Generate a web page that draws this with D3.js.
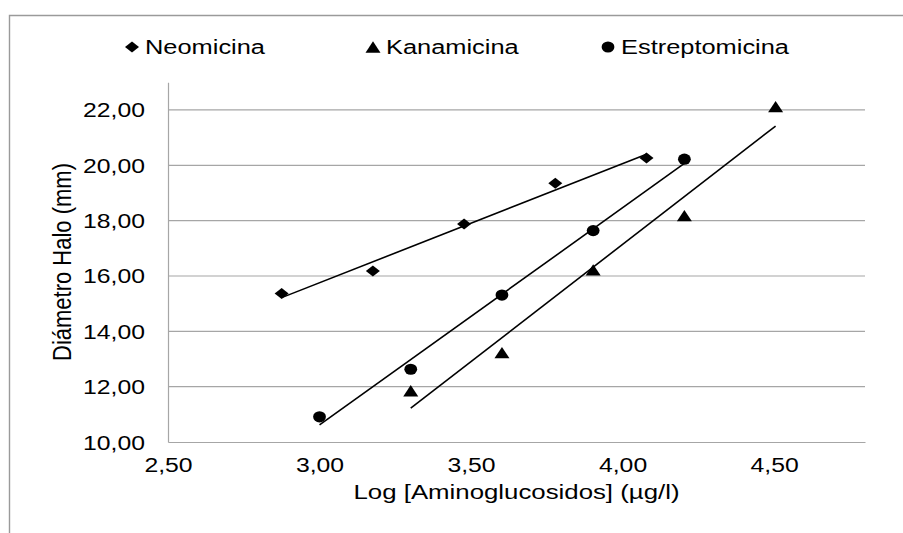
<!DOCTYPE html>
<html><head><meta charset="utf-8">
<script src="https://cdn.jsdelivr.net/npm/d3@7"></script>
<style>body{margin:0;background:#fff;} svg{display:block;} text{font-family:Arial,"Liberation Sans",sans-serif;fill:#000;}</style>
</head><body>
<svg id="c" width="903" height="533"></svg>
<script>
const seriesNames = ["Neomicina", "Kanamicina", "Estreptomicina"];
const neoX = [2.875, 3.176, 3.477, 3.778, 4.079];
const neoY = [15.37, 16.18, 17.88, 19.35, 20.26];
const kanX = [3.301, 3.602, 3.903, 4.204, 4.505];
const kanY = [11.85, 13.23, 16.22, 18.18, 22.12];
const estX = [3.0, 3.301, 3.602, 3.903, 4.204];
const estY = [10.91, 12.63, 15.31, 17.64, 20.22];
const xTicks = [2.5, 3.0, 3.5, 4.0, 4.5];
const yTicks = [10, 12, 14, 16, 18, 20, 22];
const xTitle = "Log [Aminoglucosidos] (µg/l)";
const yTitle = "Diámetro Halo (mm)";

const svg = d3.select("#c");
const SX = 1.27;
const x = d3.scaleLinear().domain([2.5, 4.8]).range([168, 865]);
const y = d3.scaleLinear().domain([10, 23]).range([442, 82.3]);
const fmt = d => d3.format(".2f")(d).replace(".", ",");

// chart border (cropped)
svg.append("path").attr("d", "M9.5,1000V15.5H903").attr("fill", "none").attr("stroke", "#9a9a9a").attr("stroke-width", 1.4);

// gridlines
svg.append("g").selectAll("line").data(yTicks.filter(d => d > 10)).join("line")
  .attr("x1", 168).attr("x2", 865).attr("y1", d => y(d)).attr("y2", d => y(d))
  .attr("stroke", "#a6a6a6").attr("stroke-width", 1.2);

// axes
const gx = svg.append("g").attr("transform", `translate(0,${y(10)})`)
  .call(d3.axisBottom(x).tickValues(xTicks).tickSize(0).tickFormat(fmt));
gx.select(".domain").attr("stroke", "#a6a6a6").attr("stroke-width", 1.2);
gx.selectAll(".tick text").attr("font-size", 19.5).attr("font-family", "Arial,'Liberation Sans',sans-serif")
  .attr("y", 0).attr("dy", null).attr("x", 0)
  .attr("transform", `translate(0,30) scale(${SX},1)`);

const gy = svg.append("g").attr("transform", `translate(168,0)`)
  .call(d3.axisLeft(y).tickValues(yTicks).tickSize(0).tickFormat(fmt));
gy.select(".domain").attr("stroke", "#a6a6a6").attr("stroke-width", 1.2);
gy.selectAll(".tick text").attr("font-size", 19.5).attr("font-family", "Arial,'Liberation Sans',sans-serif")
  .attr("x", 0).attr("dy", null).attr("y", 0).attr("text-anchor", "end")
  .attr("transform", `translate(-23,7) scale(${SX},1)`);

// titles
svg.append("text").attr("text-anchor", "middle").attr("font-size", 20)
  .attr("transform", `translate(516.5,499) scale(1.29,1)`).text(xTitle);
svg.append("text").attr("text-anchor", "middle").attr("font-size", 22)
  .attr("transform", `translate(71,262) scale(1.14,1) rotate(-90)`).text(yTitle);

// markers
function diamond(g) { return g.append("path").attr("d", "M0,-5.5L7,0L0,5.5L-7,0Z"); }
function triangle(g) { return g.append("path").attr("d", "M0,-5.7L7.5,5.7L-7.5,5.7Z"); }
function circle(g) { return g.append("ellipse").attr("rx", 6.4).attr("ry", 5.6); }
const shapes = [diamond, triangle, circle];
const data = [
  neoX.map((v, i) => [v, neoY[i]]),
  kanX.map((v, i) => [v, kanY[i]]),
  estX.map((v, i) => [v, estY[i]])
];

// trendlines (least squares)
data.forEach(pts => {
  const mx = d3.mean(pts, p => p[0]), my = d3.mean(pts, p => p[1]);
  const sxy = d3.sum(pts, p => (p[0] - mx) * (p[1] - my));
  const sxx = d3.sum(pts, p => (p[0] - mx) ** 2);
  const b = sxy / sxx, a = my - b * mx;
  const [x0, x1] = d3.extent(pts, p => p[0]);
  svg.append("line").attr("x1", x(x0)).attr("y1", y(a + b * x0)).attr("x2", x(x1)).attr("y2", y(a + b * x1))
    .attr("stroke", "#000").attr("stroke-width", 1.6);
});

data.forEach((pts, si) => {
  pts.forEach(p => {
    const g = svg.append("g").attr("transform", `translate(${x(p[0])},${y(p[1])})`);
    shapes[si](g).attr("fill", "#000");
  });
});

// legend
const legX = [132, 373, 608];
seriesNames.forEach((n, i) => {
  const g = svg.append("g").attr("transform", `translate(${legX[i]},47)`);
  shapes[i](g).attr("fill", "#000");
  svg.append("text").attr("font-size", 20)
    .attr("transform", `translate(${legX[i] + 13},54) scale(${SX},1)`).text(n);
});
</script>
</body></html>
